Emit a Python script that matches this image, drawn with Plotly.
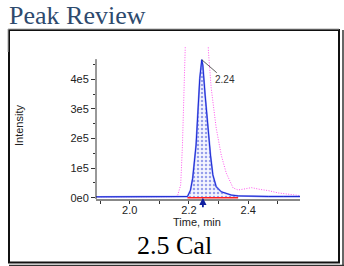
import plotly.graph_objects as go

# ---------------- data ----------------
blue_t = [1.886, 1.95, 2.0, 2.05, 2.1, 2.15, 2.19, 2.195, 2.205, 2.2126, 2.224, 2.2296,
          2.2365, 2.2433, 2.2467, 2.2545, 2.2637, 2.2726, 2.2807, 2.292, 2.309, 2.343,
          2.366, 2.40, 2.411, 2.43, 2.468, 2.52, 2.575]
blue_i = [3000, 3000, 2500, 3000, 2000, 3000, 3000, 4000, 25000, 66000, 178000, 290000,
          403000, 466000, 448000, 347000, 234000, 144000, 77000, 37000, 20000, 9000,
          6000, 5000, 7000, 6000, 4000, 4000, 4000]

pink_t = [1.886, 2.0, 2.1, 2.15, 2.161, 2.172, 2.178, 2.184, 2.187, 2.195, 2.225, 2.255,
          2.2658, 2.275, 2.292, 2.309, 2.326, 2.349, 2.366, 2.39, 2.411, 2.44, 2.468,
          2.502, 2.548, 2.575]
pink_i = [2000, 2000, 2000, 3000, 5000, 43000, 178000, 347000, 493000, 800000, 1100000,
          800000, 493000, 371000, 235000, 144000, 83000, 33000, 26000, 30000, 34000,
          28000, 24000, 16000, 9000, 7000]

peak_rt = 2.2433
peak_h = 466000
peak_label = "2.24"
int_start, int_end = 2.195, 2.366

y_tickvals = [0, 1e5, 2e5, 3e5, 4e5]
y_ticktext = ["0e0", "1e5", "2e5", "3e5", "4e5"]
y_minor = [0.5e5, 1.5e5, 2.5e5, 3.5e5, 4.5e5]
x_tickvals = [2.0, 2.2, 2.4]
x_ticktext = ["2.0", "2.2", "2.4"]
x_minor = [1.9, 2.1, 2.3, 2.5]

title_text = "Peak Review"
caption_text = "2.5 Cal"
x_title = "Time, min"
y_title = "Intensity"

# ---------------- layout geometry ----------------
W, H = 344, 266
ML, MR, MT, MB = 96, 44, 47, 67
PW, PH = W - ML - MR, H - MT - MB


def px(x):
    return (x - ML) / PW


def py(y):
    return 1 - (y - MT) / PH


fig = go.Figure()

# integrated area
fill_t = [t for t in blue_t if int_start <= t <= int_end]
fill_i = [v for t, v in zip(blue_t, blue_i) if int_start <= t <= int_end]
fig.add_trace(go.Scatter(
    x=fill_t, y=fill_i, mode="lines", line=dict(width=0, color="#3344DD"),
    fill="tozeroy", fillcolor="#F2F3FD",
    fillpattern=dict(shape=".", fgcolor="#3A48D8", bgcolor="#F4F5FE", size=4, solidity=0.3),
    hoverinfo="skip", showlegend=False))

# magenta dotted overlay
fig.add_trace(go.Scatter(
    x=pink_t, y=pink_i, mode="lines",
    line=dict(color="#FF55EE", width=1, dash="1px,1.5px"), showlegend=False))

# blue chromatogram (light halo + dark core)
fig.add_trace(go.Scatter(
    x=blue_t, y=blue_i, mode="lines",
    line=dict(color="#8C94F2", width=1.8), showlegend=False))
fig.add_trace(go.Scatter(
    x=blue_t, y=blue_i, mode="lines",
    line=dict(color="#1020D0", width=0.9), showlegend=False))

# red integration baseline
fig.add_trace(go.Scatter(
    x=[int_start, int_end], y=[0, 0], mode="lines",
    line=dict(color="#FF2020", width=1.6), showlegend=False))

shapes = [
    # y axis line
    dict(type="line", xref="paper", yref="y", x0=0, x1=0, y0=-4400, y1=468000,
         line=dict(color="#333333", width=1)),
    # outer frame
    dict(type="rect", xref="paper", yref="paper", x0=px(9), x1=px(339),
         y0=py(262.6), y1=py(30), line=dict(color="#111111", width=2)),
    dict(type="line", xref="paper", yref="paper", x0=px(8), x1=px(339),
         y0=py(29), y1=py(29), line=dict(color="#AAAAAA", width=1)),
    dict(type="line", xref="paper", yref="paper", x0=px(8), x1=px(8),
         y0=py(29), y1=py(52), line=dict(color="#AAAAAA", width=1)),
    dict(type="line", xref="paper", yref="paper", x0=px(343), x1=px(343),
         y0=py(266), y1=py(30), line=dict(color="#333333", width=1.5)),
    dict(type="line", xref="paper", yref="paper", x0=px(9), x1=px(344),
         y0=py(265.4), y1=py(265.4), line=dict(color="#333333", width=1.2)),
]

annotations = [
    dict(text=title_text, xref="paper", yref="paper", x=px(7), y=py(15),
         xanchor="left", yanchor="middle", showarrow=False,
         font=dict(family="Liberation Serif", size=26, color="#2E4A6E")),
    dict(text=caption_text, xref="paper", yref="paper", x=px(174), y=py(245),
         xanchor="center", yanchor="middle", showarrow=False,
         font=dict(family="Liberation Serif", size=26, color="#000000")),
    dict(text=x_title, xref="paper", yref="paper", x=px(197), y=py(221.5),
         xanchor="center", yanchor="middle", showarrow=False,
         font=dict(family="Liberation Sans", size=11, color="#222222")),
    dict(text=y_title, xref="paper", yref="paper", x=px(19), y=py(126),
         xanchor="center", yanchor="middle", showarrow=False, textangle=-90,
         font=dict(family="Liberation Sans", size=11, color="#222222")),
    # peak label with leader line
    dict(text=peak_label, x=peak_rt, y=peak_h, xref="x", yref="y",
         showarrow=True, arrowhead=0, arrowwidth=0.8, arrowcolor="#333333",
         ax=23, ay=20, standoff=0,
         font=dict(family="Liberation Sans", size=10, color="#333333")),
    # retention-time arrow under the axis
    dict(text="", x=2.247, y=0, xref="x", yref="y", showarrow=True,
         arrowhead=2, arrowsize=0.8, arrowwidth=1.8, arrowcolor="#1020A0",
         ax=0, ay=11, standoff=0),
]

fig.update_layout(
    width=W, height=H, margin=dict(l=ML, r=MR, t=MT, b=MB),
    paper_bgcolor="white", plot_bgcolor="white",
    shapes=shapes, annotations=annotations, showlegend=False,
    xaxis=dict(range=[1.886, 2.575], showgrid=False, zeroline=False,
               showline=True, linecolor="#888888", linewidth=2,
               tickmode="array", tickvals=x_tickvals, ticktext=x_ticktext,
               ticks="outside", ticklen=3, tickcolor="#333333",
               ticklabelstandoff=-3,
               minor=dict(tickmode="array", tickvals=x_minor, ticks="outside",
                          ticklen=3, tickcolor="#333333"),
               tickfont=dict(family="Liberation Sans", size=11, color="#222222")),
    yaxis=dict(range=[-4400, 509000], showgrid=False, zeroline=False,
               showline=False,
               tickmode="array", tickvals=y_tickvals, ticktext=y_ticktext,
               ticks="outside", ticklen=4, tickcolor="#333333",
               minor=dict(tickmode="array", tickvals=y_minor, ticks="outside",
                          ticklen=2, tickcolor="#333333"),
               tickfont=dict(family="Liberation Sans", size=11, color="#222222")),
)

fig.write_html("out.html")
